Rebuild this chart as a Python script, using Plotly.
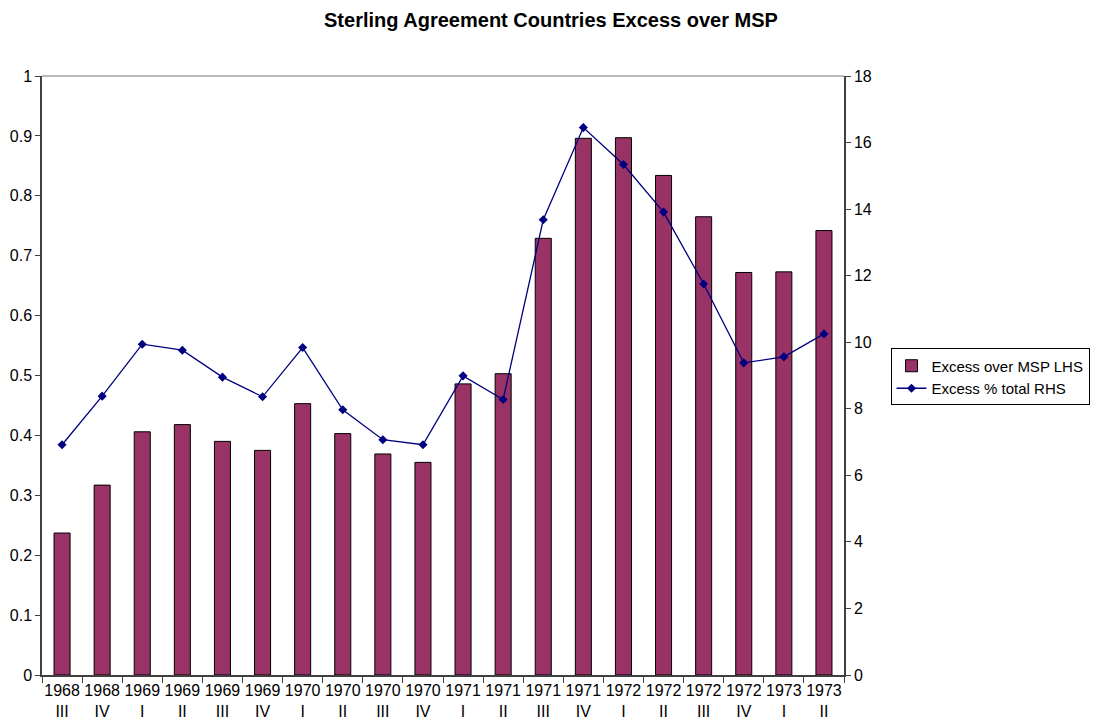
"""Sterling Agreement Countries: excess over MSP (bars, LHS) and excess % of total (line, RHS)"""

import plotly.graph_objects as go

years = ["1968", "1968", "1969", "1969", "1969", "1969", "1970", "1970", "1970", "1970",
         "1971", "1971", "1971", "1971", "1972", "1972", "1972", "1972", "1973", "1973"]
quarters = ["III", "IV", "I", "II", "III", "IV", "I", "II", "III", "IV",
            "I", "II", "III", "IV", "I", "II", "III", "IV", "I", "II"]
excess_msp = [0.237, 0.317, 0.406, 0.418, 0.390, 0.375, 0.453, 0.403, 0.369, 0.355,
              0.486, 0.503, 0.729, 0.896, 0.897, 0.834, 0.765, 0.672, 0.673, 0.742]
excess_pct = [6.92, 8.38, 9.94, 9.76, 8.95, 8.36, 9.84, 7.97, 7.07, 6.92,
              8.99, 8.28, 13.68, 16.45, 15.34, 13.91, 11.75, 9.38, 9.56, 10.25]

labels = [f"{y}<br>{q}" for y, q in zip(years, quarters)]
FONT = "Arial, Liberation Sans, sans-serif"
AXIS_COL = "#404040"

fig = go.Figure()
fig.add_trace(go.Bar(
    x=labels, y=excess_msp, name="Excess over MSP LHS",
    marker=dict(color="#993366", line=dict(color="black", width=1)),
))
fig.add_trace(go.Scatter(
    x=labels, y=excess_pct, name="Excess % total RHS", yaxis="y2",
    mode="lines+markers",
    line=dict(color="#000080", width=1.3),
    marker=dict(symbol="diamond", size=7, color="#000080"),
))

# page body has an 8px margin, so the figure is a bit smaller than the window
fig.update_layout(
    width=1094, height=718,
    paper_bgcolor="white", plot_bgcolor="white",
    font=dict(family=FONT, size=16, color="black"),
    title=dict(text="<b>Sterling Agreement Countries Excess over MSP</b>",
               x=0.4963, xanchor="center", y=0.983, yanchor="middle",
               font=dict(size=20)),
    margin=dict(l=34, r=258, t=68, b=51, autoexpand=False),
    bargap=0.6,
    showlegend=True,
    legend=dict(x=1.058, y=0.4975, xanchor="left", yanchor="middle",
                bordercolor="black", borderwidth=1, bgcolor="white",
                font=dict(size=15), tracegroupgap=0, itemwidth=30),
    xaxis=dict(type="category", range=[-0.5, len(labels) - 0.5], automargin=False,
               showline=True, linecolor=AXIS_COL, linewidth=1.5,
               ticks="outside", ticklen=6, tickcolor=AXIS_COL, tickson="boundaries",
               showgrid=False, tickangle=0),
    yaxis=dict(range=[0, 1], dtick=0.1, automargin=False, showline=True,
               linecolor=AXIS_COL, linewidth=1.5, ticks="outside", ticklen=5,
               tickcolor=AXIS_COL, showgrid=False, zeroline=False),
    yaxis2=dict(range=[0, 18], dtick=2, automargin=False, overlaying="y", side="right",
                showline=True, linecolor=AXIS_COL, linewidth=1.5, ticks="outside",
                ticklen=5, tickcolor=AXIS_COL, showgrid=False, zeroline=False),
)
fig.add_shape(type="line", xref="paper", yref="paper", x0=0, x1=1, y0=1, y1=1,
              line=dict(color="#a0a0a0", width=1.5))

fig.write_html("out.html")
